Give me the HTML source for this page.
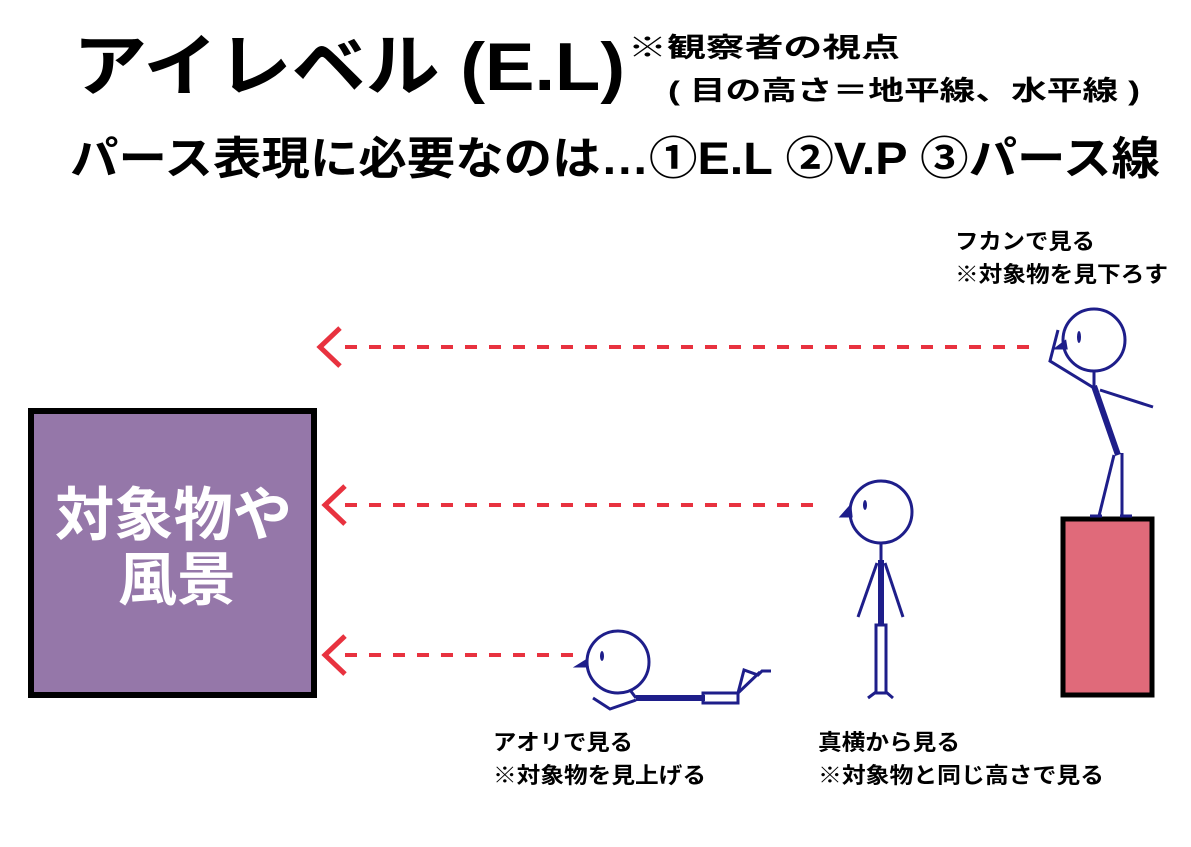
<!DOCTYPE html>
<html><head><meta charset="utf-8"><style>
html,body{margin:0;padding:0;background:#fff;}
svg text{font-family:"Liberation Sans","Noto Sans CJK JP",sans-serif;font-weight:bold;}
</style></head><body>
<svg width="1191" height="842" viewBox="0 0 1191 842" xmlns="http://www.w3.org/2000/svg">
<text x="73" y="90" font-size="68" textLength="552" lengthAdjust="spacingAndGlyphs">アイレベル (E.L)</text>
<text x="628" y="57" font-size="27" textLength="272" lengthAdjust="spacingAndGlyphs">※観察者の視点</text>
<text x="668" y="100" font-size="27" textLength="472" lengthAdjust="spacingAndGlyphs">( 目の高さ＝地平線、水平線 )</text>
<text x="70" y="174" font-size="45" textLength="1090" lengthAdjust="spacingAndGlyphs">パース表現に必要なのは…①E.L  ②V.P  ③パース線</text>

<rect x="31" y="411" width="283" height="284" fill="#9577a9" stroke="#000" stroke-width="6"/>
<text x="55" y="535" font-size="58" fill="#fff" textLength="237" lengthAdjust="spacingAndGlyphs">対象物や</text>
<text x="118" y="600" font-size="58" fill="#fff" textLength="118" lengthAdjust="spacingAndGlyphs">風景</text>

<rect x="1063" y="519" width="89" height="176" fill="#e06a7a" stroke="#000" stroke-width="5"/>

<g stroke="#e8323f" stroke-width="4" fill="none">
<line x1="345" y1="347" x2="1030" y2="347" stroke-dasharray="12,12"/>
<line x1="345" y1="505" x2="820" y2="505" stroke-dasharray="12,12"/>
<line x1="345" y1="655" x2="577" y2="655" stroke-dasharray="12,12"/>
<polyline points="340,328 320,347 340,366" stroke-width="5"/>
<polyline points="345,486 325,505 345,524" stroke-width="5"/>
<polyline points="345,636 325,655 345,674" stroke-width="5"/>
</g>

<g stroke="#1e1e8a" fill="none" stroke-width="3">
<circle cx="881" cy="512" r="31"/>
<ellipse cx="865" cy="505" rx="2" ry="5" fill="#1e1e8a" stroke="none"/>
<polygon points="850,507 842,516 851,516" fill="#1e1e8a"/>
<line x1="881" y1="543" x2="881" y2="560"/>
<line x1="881" y1="560" x2="881" y2="625" stroke-width="6"/>
<line x1="877" y1="563" x2="858" y2="617"/>
<line x1="885" y1="563" x2="903" y2="617"/>
<rect x="876" y="625" width="10" height="68"/>
<polyline points="876,692 868,698"/><polyline points="886,692 893,698"/>
<circle cx="618" cy="662" r="31"/>
<ellipse cx="602" cy="656" rx="2" ry="5" fill="#1e1e8a" stroke="none"/>
<polygon points="586,661 578,666 587,666" fill="#1e1e8a"/>
<line x1="636" y1="698" x2="705" y2="698" stroke-width="6"/>
<rect x="703" y="693" width="35" height="10"/>
<polyline points="738,693 744,670 758,675 762,671 771,671"/>
<line x1="738" y1="693" x2="760" y2="672"/>
<polyline points="593,698 610,709 636,700"/>
<line x1="630" y1="690" x2="636" y2="698"/>
<circle cx="1094" cy="340" r="31"/>
<ellipse cx="1079" cy="337" rx="2" ry="6" fill="#1e1e8a" stroke="none"/>
<polygon points="1065,342 1057,348 1066,348" fill="#1e1e8a"/>
<line x1="1094" y1="371" x2="1094" y2="386"/>
<polyline points="1094,388 1050,361 1058,330"/>
<line x1="1100" y1="390" x2="1153" y2="407"/>
<line x1="1094" y1="386" x2="1118" y2="455" stroke-width="6"/>
<line x1="1114" y1="455" x2="1099" y2="516"/>
<line x1="1122" y1="453" x2="1122" y2="516"/>
<line x1="1090" y1="516" x2="1102" y2="516"/>
<line x1="1120" y1="516" x2="1132" y2="516"/>
</g>

<g font-size="22">
<text x="955" y="249" textLength="140" lengthAdjust="spacingAndGlyphs">フカンで見る</text>
<text x="955" y="282" textLength="213" lengthAdjust="spacingAndGlyphs">※対象物を見下ろす</text>
<text x="493" y="750" textLength="140" lengthAdjust="spacingAndGlyphs">アオリで見る</text>
<text x="493" y="783" textLength="213" lengthAdjust="spacingAndGlyphs">※対象物を見上げる</text>
<text x="818" y="750" textLength="142" lengthAdjust="spacingAndGlyphs">真横から見る</text>
<text x="818" y="783" textLength="286" lengthAdjust="spacingAndGlyphs">※対象物と同じ高さで見る</text>
</g>
</svg>
</body></html>
